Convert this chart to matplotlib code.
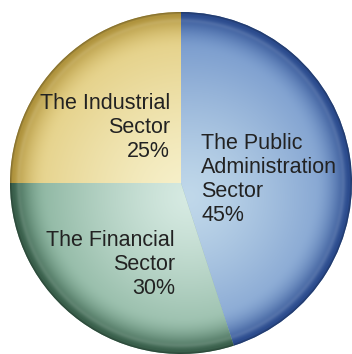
import numpy as np
import matplotlib
matplotlib.use("Agg")
import matplotlib.pyplot as plt

# Sector shares (percent), drawn clockwise from 12 o'clock
sectors = ["The Public\nAdministration\nSector", "The Financial\nSector", "The Industrial\nSector"]
shares = [45, 30, 25]

# Glossy shading per slice: (inner highlight, body, rim)
palette = [
    ((192, 216, 234), (108, 144, 200), (44, 76, 142)),   # public administration
    ((214, 234, 226), (124, 170, 146), (58, 96, 76)),    # financial
    ((247, 241, 204), (226, 204, 126), (176, 148, 62)),  # industrial
]

W, H = 352, 354
CX, CY, R = 181, H - 183, 171

fig = plt.figure(figsize=(W / 100, H / 100), dpi=100)
ax = fig.add_axes([0, 0, 1, 1])

wedges, _ = ax.pie(
    shares,
    colors=[np.array(p[1]) / 255 for p in palette],
    startangle=90,
    counterclock=False,
    radius=R,
    center=(CX, CY),
    frame=True,
    wedgeprops=dict(linewidth=0),
)

# Pixel grid in data units (y up)
xs = np.arange(W) + 0.5
ys = H - (np.arange(H) + 0.5)
XX, YY = np.meshgrid(xs, ys)
d = np.hypot(XX - CX, YY - CY) / R
# highlight sits slightly below the centre
dh = np.hypot(XX - (CX + 8), YY - (CY - 14)) / R

for wedge, (light, body, rim) in zip(wedges, palette):
    light, body, rim = (np.array(c, float) / 255 for c in (light, body, rim))
    t = np.clip(dh / 1.05, 0, 1) ** 1.3
    col = light[None, None, :] * (1 - t[..., None]) + body[None, None, :] * t[..., None]
    s = np.clip((d - 0.78) / 0.2, 0, 1) ** 2
    col = col * (1 - s[..., None]) + rim[None, None, :] * s[..., None]
    # faint glossy ring just inside the rim
    g = np.exp(-((d - 0.95) / 0.012) ** 2) * 0.08
    col = col * (1 - g[..., None]) + g[..., None]
    # darker edge
    e = np.clip((d - 0.985) / 0.015, 0, 1) * 0.3
    col = col * (1 - e[..., None])
    rgba = np.dstack([np.clip(col, 0, 1), np.ones_like(d)])
    im = ax.imshow(rgba, extent=(0, W, 0, H), origin="upper", interpolation="bilinear", zorder=2)
    im.set_clip_path(wedge)

text_kw = dict(fontsize=15.5, family=["Liberation Sans", "DejaVu Sans"], color="#222222",
               va="baseline", zorder=5)

def put_label(lines, x, y0, ha, step=24):
    for k, line in enumerate(lines):
        ax.text(x, H - (y0 + k * step), line, ha=ha, **text_kw)

labels = [s.split("\n") + [f"{v}%"] for s, v in zip(sectors, shares)]
put_label(labels[0], 201, 149, "left", step=24)
put_label(labels[1], 175, 246, "right", step=24)
put_label(labels[2], 170, 109, "right", step=24)

ax.set_xlim(0, W)
ax.set_ylim(0, H)
ax.set_aspect("equal")
ax.axis("off")

fig.savefig("out.png", dpi=100, facecolor="white")
